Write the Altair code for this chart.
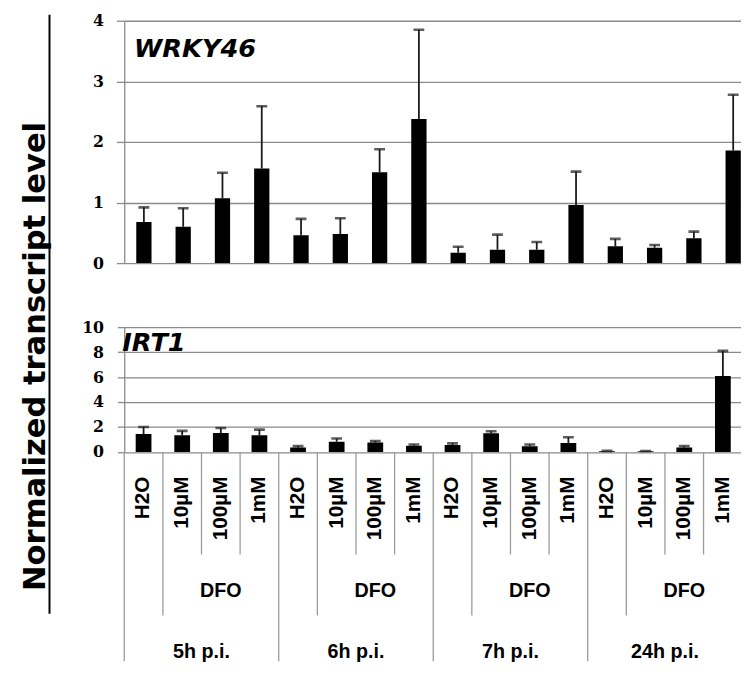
import altair as alt
import pandas as pd

# ---------------- data ----------------
times = ["5h p.i.", "6h p.i.", "7h p.i.", "24h p.i."]
treatments = ["H2O", "10µM", "100µM", "1mM"]
group_label = "DFO"
y_title = "Normalized transcript level"

wrky46_mean = [0.68, 0.60, 1.07, 1.56, 0.46, 0.48, 1.50, 2.38,
               0.17, 0.22, 0.22, 0.96, 0.28, 0.255, 0.41, 1.86]
wrky46_err = [0.24, 0.305, 0.42, 1.03, 0.27, 0.26, 0.38, 1.47,
              0.10, 0.25, 0.13, 0.55, 0.12, 0.045, 0.11, 0.92]

irt1_mean = [1.45, 1.34, 1.53, 1.34, 0.35, 0.82, 0.75, 0.50,
             0.55, 1.50, 0.45, 0.71, 0.06, 0.05, 0.35, 6.08]
irt1_err = [0.55, 0.35, 0.39, 0.45, 0.12, 0.26, 0.12, 0.10,
            0.14, 0.16, 0.15, 0.47, 0.03, 0.03, 0.12, 2.02]

wrky46_ticks = [0, 1, 2, 3, 4]
irt1_ticks = [0, 2, 4, 6, 8, 10]

# ---------------- tables ----------------
cats = [f"{t}|{tr}" for t in times for tr in treatments]


def bar_table(mean, err):
    return pd.DataFrame({
        "cat": cats,
        "mean": mean,
        "upper": [m + e for m, e in zip(mean, err)],
    })


df_top = bar_table(wrky46_mean, wrky46_err)
df_bot = bar_table(irt1_mean, irt1_err)

# separators of the category table: H2O starts a time group (all rows),
# 10µM starts the DFO sub-group (two rows), the rest only the first row
depth_of = {treatments[0]: 3, treatments[1]: 2}
df_sep = pd.DataFrame({
    "cat": cats,
    "start": [0] * len(cats),
    "depth": [depth_of.get(tr, 1) for t in times for tr in treatments],
})
df_conc = pd.DataFrame({"cat": cats, "label": [tr for t in times for tr in treatments]})
df_grp = pd.DataFrame({
    "cat": [f"{t}|{treatments[2]}" for t in times],
    "dfo": [group_label] * len(times),
    "time": times,
})

# ---------------- styles / layout ----------------
GRID = "#8a8a8a"
SEP = "#9a9a9a"
BAR_FONT = "Liberation Sans"
GENE_FONT = "DejaVu Sans"
NUM_FONT = "DejaVu Serif"

TOP_W, TOP_H, TOP_SPAN = 626, 246, 638      # the last band runs past the visible edge
BOT_W, BOT_SPAN = 616, 627.2
BARS_H = 126.7
TAB_RANGE = [126.7, 230.7, 292.7, 339]
BOT_H = 339


def yaxis(values, tick, pad):
    return alt.Axis(values=values, grid=True, gridColor=GRID, gridWidth=1.3,
                    domainColor=GRID, domainWidth=1.3, tickColor=GRID,
                    tickWidth=1.3, tickSize=tick, labelPadding=pad,
                    labelFont=NUM_FONT, labelFontWeight="bold",
                    labelFontSize=16, labelColor="black", title=None,
                    format="d")


# ---------------- top panel: WRKY46 ----------------
xs_top = alt.Scale(domain=cats, range=[0, TOP_SPAN], paddingInner=0, paddingOuter=0)
ys_top = alt.Scale(domain=[0, 4], nice=False)
x_top = alt.X("cat:N", scale=xs_top, axis=None, sort=cats)

top_base = alt.Chart(df_top)
top_bars = top_base.mark_bar(color="black", size=15.5, clip=True).encode(
    x=x_top, y=alt.Y("mean:Q", scale=ys_top, axis=yaxis(wrky46_ticks, 8, 13)))
top_err = top_base.mark_rule(color="#1a1a1a", strokeWidth=1.8, clip=True).encode(
    x=x_top, y=alt.Y("mean:Q", scale=ys_top), y2="upper:Q")
top_cap = top_base.mark_tick(color="#1a1a1a", orient="horizontal", size=11,
                             thickness=2.6, clip=True).encode(
    x=x_top, y=alt.Y("upper:Q", scale=ys_top))
top_label = alt.Chart(pd.DataFrame({"cat": [cats[0]], "gene": ["WRKY46"]})).mark_text(
    font=GENE_FONT, fontSize=26, fontWeight="bold", fontStyle="italic",
    align="left", baseline="middle", color="black", dx=10).encode(
    x=alt.X("cat:N", scale=xs_top, axis=None, bandPosition=0),
    y=alt.YDatum(3.53, type="quantitative", scale=ys_top),
    text="gene:N")

top = alt.layer(top_bars, top_err, top_cap, top_label).properties(
    width=TOP_W, height=TOP_H)

# ---------------- bottom panel: IRT1 + category table ----------------
xs_bot = alt.Scale(domain=cats, range=[0, BOT_SPAN], paddingInner=0, paddingOuter=0)
ys_bot = alt.Scale(domain=[0, 10], range=[BARS_H, 0], nice=False)
ys_tab = alt.Scale(domain=[0, 1, 2, 3], range=TAB_RANGE, nice=False, zero=False)
x_bot = alt.X("cat:N", scale=xs_bot, axis=None, sort=cats)

bot_base = alt.Chart(df_bot)
bot_bars = bot_base.mark_bar(color="black", size=16, clip=True).encode(
    x=x_bot, y=alt.Y("mean:Q", scale=ys_bot, axis=yaxis(irt1_ticks, 7, 14)))
bot_err = bot_base.mark_rule(color="#1a1a1a", strokeWidth=1.8, clip=True).encode(
    x=x_bot, y=alt.Y("mean:Q", scale=ys_bot), y2="upper:Q")
bot_cap = bot_base.mark_tick(color="#1a1a1a", orient="horizontal", size=11,
                             thickness=2.6, clip=True).encode(
    x=x_bot, y=alt.Y("upper:Q", scale=ys_bot))
bot_label = alt.Chart(pd.DataFrame({"cat": [cats[0]], "gene": ["IRT1"]})).mark_text(
    font=GENE_FONT, fontSize=26, fontWeight="bold", fontStyle="italic",
    align="left", baseline="middle", color="black", dx=-2).encode(
    x=alt.X("cat:N", scale=xs_bot, axis=None, bandPosition=0),
    y=alt.YDatum(8.7, type="quantitative", scale=ys_bot),
    text="gene:N")

bars_layer = alt.layer(bot_bars, bot_err, bot_cap, bot_label)

sep_rules = alt.Chart(df_sep).mark_rule(color=SEP, strokeWidth=1.3).encode(
    x=alt.X("cat:N", scale=xs_bot, axis=None, bandPosition=0, sort=cats),
    y=alt.Y("start:Q", scale=ys_tab, axis=None),
    y2="depth:Q")
conc_text = alt.Chart(df_conc).mark_text(
    font=BAR_FONT, fontSize=21, fontWeight="bold", angle=270, align="right",
    baseline="middle", dx=-25, color="black").encode(
    x=x_bot, y=alt.YDatum(0, type="quantitative", scale=ys_tab, axis=None),
    text="label:N")
dfo_text = alt.Chart(df_grp).mark_text(
    font=BAR_FONT, fontSize=20, fontWeight="bold", align="center",
    baseline="middle", dy=6, color="black").encode(
    x=x_bot, y=alt.YDatum(1.5, type="quantitative", scale=ys_tab, axis=None),
    text="dfo:N")
time_text = alt.Chart(df_grp).mark_text(
    font=BAR_FONT, fontSize=20, fontWeight="bold", align="center",
    baseline="middle", dy=14, color="black").encode(
    x=alt.X("cat:N", scale=xs_bot, axis=None, bandPosition=0, sort=cats),
    y=alt.YDatum(2.5, type="quantitative", scale=ys_tab, axis=None),
    text="time:N")

table_layer = alt.layer(sep_rules, conc_text, dfo_text, time_text)

bottom = alt.layer(bars_layer, table_layer).resolve_scale(y="independent").properties(
    width=BOT_W, height=BOT_H)

right = alt.ConcatChart(concat=[top, bottom], columns=1, align="none",
                        bounds="full", spacing=49).resolve_scale(
    x="independent", y="independent")

# ---------------- left: shared y title with a rule ----------------
unit = alt.Scale(domain=[0, 1], nice=False, zero=False)
left_df = pd.DataFrame({"title": [y_title]})
left_rule = alt.Chart(left_df).mark_rule(color="black", strokeWidth=2).encode(
    x=alt.XDatum(0.78, type="quantitative", scale=unit, axis=None),
    y=alt.YDatum(0, type="quantitative", scale=unit, axis=None),
    y2=alt.Y2Datum(1.01))
left_text = alt.Chart(left_df).mark_text(
    font="DejaVu Sans", fontSize=31, fontWeight="bold", angle=270,
    align="center", baseline="middle", color="black").encode(
    x=alt.XDatum(0.52, type="quantitative", scale=unit, axis=None),
    y=alt.YDatum(0.434, type="quantitative", scale=unit, axis=None),
    text="title:N")
left = alt.layer(left_rule, left_text).properties(width=54, height=602)

chart = alt.hconcat(left, right, spacing=20).properties(
    padding={"left": 0, "top": 0, "right": 0, "bottom": 0},
    background="white",
).configure_view(stroke=None)

chart.save("out.html", embed_options={"renderer": "svg", "actions": False})
